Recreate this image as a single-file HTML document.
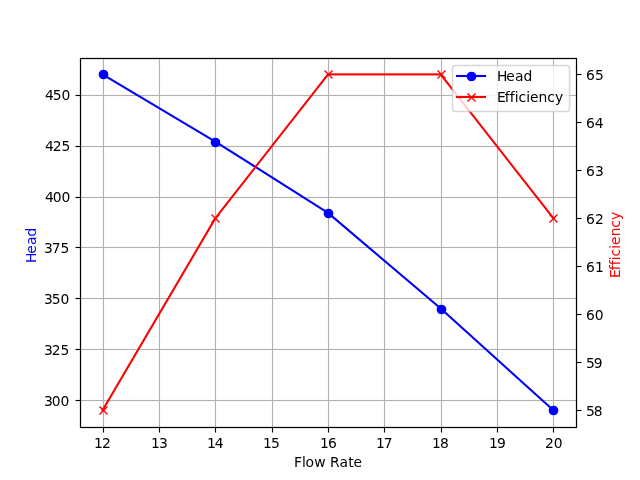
<!DOCTYPE html>
<html lang="en"><head><meta charset="utf-8"><title>Head and Efficiency vs Flow Rate</title>
<style>html,body{margin:0;padding:0;background:#fff;}body{width:640px;height:480px;overflow:hidden;}svg{display:block;}
text{font-family:"DejaVu Sans", "Liberation Sans", sans-serif;font-size:13.8889px;fill:#000;}
.grid{stroke:#b0b0b0;stroke-width:1.1111;fill:none;}
.tick{stroke:#000;stroke-width:1.1111;fill:none;}
.spine{stroke:#000;stroke-width:1.1111;fill:none;stroke-linecap:square;}
.ln{fill:none;stroke-width:2.0833;stroke-linecap:square;stroke-linejoin:round;}
</style></head><body>
<svg width="640" height="480" viewBox="0 0 640 480">
<rect x="0" y="0" width="640" height="480" fill="#fff"/>
<defs><clipPath id="ax"><rect x="80.000" y="57.600" width="496.000" height="369.600"/></clipPath></defs>
<g fill="#b0b0b0" clip-path="url(#ax)">
<rect x="102.9444" y="57.6" width="1.1111" height="369.6"/>
<rect x="158.9444" y="57.6" width="1.1111" height="369.6"/>
<rect x="214.9444" y="57.6" width="1.1111" height="369.6"/>
<rect x="271.9444" y="57.6" width="1.1111" height="369.6"/>
<rect x="327.9444" y="57.6" width="1.1111" height="369.6"/>
<rect x="383.9444" y="57.6" width="1.1111" height="369.6"/>
<rect x="440.9444" y="57.6" width="1.1111" height="369.6"/>
<rect x="496.9444" y="57.6" width="1.1111" height="369.6"/>
<rect x="552.9444" y="57.6" width="1.1111" height="369.6"/>
<rect x="80.0" y="399.9444" width="496.0" height="1.1111"/>
<rect x="80.0" y="348.9444" width="496.0" height="1.1111"/>
<rect x="80.0" y="297.9444" width="496.0" height="1.1111"/>
<rect x="80.0" y="246.9444" width="496.0" height="1.1111"/>
<rect x="80.0" y="196.9444" width="496.0" height="1.1111"/>
<rect x="80.0" y="145.9444" width="496.0" height="1.1111"/>
<rect x="80.0" y="94.9444" width="496.0" height="1.1111"/>
</g>
<g fill="#000">
<rect x="102.9444" y="427.5" width="1.1111" height="5"/>
<rect x="158.9444" y="427.5" width="1.1111" height="5"/>
<rect x="214.9444" y="427.5" width="1.1111" height="5"/>
<rect x="271.9444" y="427.5" width="1.1111" height="5"/>
<rect x="327.9444" y="427.5" width="1.1111" height="5"/>
<rect x="383.9444" y="427.5" width="1.1111" height="5"/>
<rect x="440.9444" y="427.5" width="1.1111" height="5"/>
<rect x="496.9444" y="427.5" width="1.1111" height="5"/>
<rect x="552.9444" y="427.5" width="1.1111" height="5"/>
<rect x="75.5" y="399.9444" width="5" height="1.1111"/>
<rect x="75.5" y="348.9444" width="5" height="1.1111"/>
<rect x="75.5" y="297.9444" width="5" height="1.1111"/>
<rect x="75.5" y="246.9444" width="5" height="1.1111"/>
<rect x="75.5" y="196.9444" width="5" height="1.1111"/>
<rect x="75.5" y="145.9444" width="5" height="1.1111"/>
<rect x="75.5" y="94.9444" width="5" height="1.1111"/>
<rect x="576.5" y="409.9444" width="5" height="1.1111"/>
<rect x="576.5" y="361.9444" width="5" height="1.1111"/>
<rect x="576.5" y="313.9444" width="5" height="1.1111"/>
<rect x="576.5" y="265.9444" width="5" height="1.1111"/>
<rect x="576.5" y="217.9444" width="5" height="1.1111"/>
<rect x="576.5" y="169.9444" width="5" height="1.1111"/>
<rect x="576.5" y="121.9444" width="5" height="1.1111"/>
<rect x="576.5" y="73.9444" width="5" height="1.1111"/>
</g>
<g id="xlabels" text-anchor="middle">
<text id="x12" x="93.92 102.04" y="448.00" text-anchor="start">12</text>
<text id="x13" x="150.88 158.89" y="448.00" text-anchor="start">13</text>
<text id="x14" x="206.89 214.76" y="448.00" text-anchor="start">14</text>
<text id="x15" x="262.91 271.12" y="448.00" text-anchor="start">15</text>
<text id="x16" x="319.97 327.98" y="448.00" text-anchor="start">16</text>
<text id="x17" x="375.93 383.85" y="448.00" text-anchor="start">17</text>
<text id="x18" x="431.95 439.96" y="448.00" text-anchor="start">18</text>
<text id="x19" x="488.96 497.08" y="448.00" text-anchor="start">19</text>
<text id="x20" x="544.97 553.68" y="448.00" text-anchor="start">20</text>
</g>
<g id="ylabels" text-anchor="end">
<text id="y300" x="44.05 51.86 60.44" y="406.00" text-anchor="start">300</text>
<text id="y325" x="44.05 51.86 60.44" y="355.00" text-anchor="start">325</text>
<text id="y350" x="44.05 51.86 60.44" y="304.00" text-anchor="start">350</text>
<text id="y375" x="44.09 51.81 60.55" y="253.00" text-anchor="start">375</text>
<text id="y400" x="44.89 52.76 61.39" y="202.00" text-anchor="start">400</text>
<text id="y425" x="44.89 52.76 61.39" y="151.00" text-anchor="start">425</text>
<text id="y450" x="44.89 52.76 61.39" y="100.00" text-anchor="start">450</text>
</g>
<g id="y2labels" text-anchor="start">
<text id="e58" x="585.97 593.84" y="416.00" text-anchor="start">58</text>
<text id="e59" x="585.97 593.84" y="368.00" text-anchor="start">59</text>
<text id="e60" x="585.97 594.78" y="320.00" text-anchor="start">60</text>
<text id="e61" x="585.97 594.89" y="272.00" text-anchor="start">61</text>
<text id="e62" x="585.97 594.89" y="224.00" text-anchor="start">62</text>
<text id="e63" x="585.97 594.89" y="176.00" text-anchor="start">63</text>
<text id="e64" x="585.97 594.78" y="128.00" text-anchor="start">64</text>
<text id="e65" x="585.97 594.89" y="80.00" text-anchor="start">65</text>
</g>
<text id="xl" x="294.05 302.02 305.62 314.36 325.72 329.88 339.45 348.20 353.41" y="467.00" text-anchor="start">Flow Rate</text>
<text id="yl" x="18.98 28.26 36.88 45.49" y="245.65" text-anchor="start" style="fill:#0000ff;" transform="rotate(-90 36.32 245.65)">Head</text>
<text id="y2l" x="587.58 595.34 600.31 605.53 609.25 616.88 620.73 629.52 637.81 645.69" y="245.15" text-anchor="start" style="fill:#ff0000;" transform="rotate(-90 620.50 245.15)">Efficiency</text>
<g clip-path="url(#ax)">
<polyline class="ln" stroke="#0000ff" points="102.55,74.40 215.27,141.60 328.00,212.87 440.73,308.58 553.45,410.40"/>
<circle cx="103.5" cy="74.5" r="4.167" fill="#0000ff" stroke="#0000ff" stroke-width="1.389"/>
<circle cx="215.5" cy="142.5" r="4.167" fill="#0000ff" stroke="#0000ff" stroke-width="1.389"/>
<circle cx="328.5" cy="213.5" r="4.167" fill="#0000ff" stroke="#0000ff" stroke-width="1.389"/>
<circle cx="441.5" cy="309.5" r="4.167" fill="#0000ff" stroke="#0000ff" stroke-width="1.389"/>
<circle cx="553.5" cy="410.5" r="4.167" fill="#0000ff" stroke="#0000ff" stroke-width="1.389"/>
</g>
<g clip-path="url(#ax)">
<polyline class="ln" stroke="#ff0000" points="102.545,410.400 215.273,218.400 328.000,74.400"/>
<rect x="328.000" y="73.3583" width="112.727" height="2.0833" fill="#ff0000"/>
<polyline class="ln" stroke="#ff0000" points="440.727,74.400 553.455,218.400"/>
<path d="M99.50 414.50L107.50 406.50M99.50 406.50L107.50 414.50" stroke="#ff0000" stroke-width="1.389" fill="none"/>
<path d="M211.50 222.50L219.50 214.50M211.50 214.50L219.50 222.50" stroke="#ff0000" stroke-width="1.389" fill="none"/>
<path d="M324.50 78.50L332.50 70.50M324.50 70.50L332.50 78.50" stroke="#ff0000" stroke-width="1.389" fill="none"/>
<path d="M437.50 78.50L445.50 70.50M437.50 70.50L445.50 78.50" stroke="#ff0000" stroke-width="1.389" fill="none"/>
<path d="M549.50 222.50L557.50 214.50M549.50 214.50L557.50 222.50" stroke="#ff0000" stroke-width="1.389" fill="none"/>
</g>
<rect class="spine" x="80.5" y="58.5" width="496.0" height="369.0"/>
<rect class="spine" x="80.5" y="58.5" width="496.0" height="369.0"/>
<rect x="452.50" y="65.50" width="117.00" height="46.00" rx="2.78" ry="2.78" fill="#ffffff" stroke="#cccccc" stroke-width="1.389" opacity="0.8"/>
<rect x="455.9583" y="74.9583" width="30.0833" height="2.0833" fill="#0000ff"/>
<circle cx="471.5" cy="76.5" r="4.167" fill="#0000ff" stroke="#0000ff" stroke-width="1.389"/>
<text id="lh" x="496.89 506.27 515.00 523.45" y="81.00" text-anchor="start">Head</text>
<rect x="455.9583" y="95.9583" width="30.0833" height="2.0833" fill="#ff0000"/>
<path d="M467.50 101.50L475.50 93.50M467.50 93.50L475.50 101.50" stroke="#ff0000" stroke-width="1.389" fill="none"/>
<text id="le" x="496.89 504.66 509.87 514.84 518.56 526.19 530.05 538.58 547.37 555.00" y="102.00" text-anchor="start">Efficiency</text>
</svg></body></html>
